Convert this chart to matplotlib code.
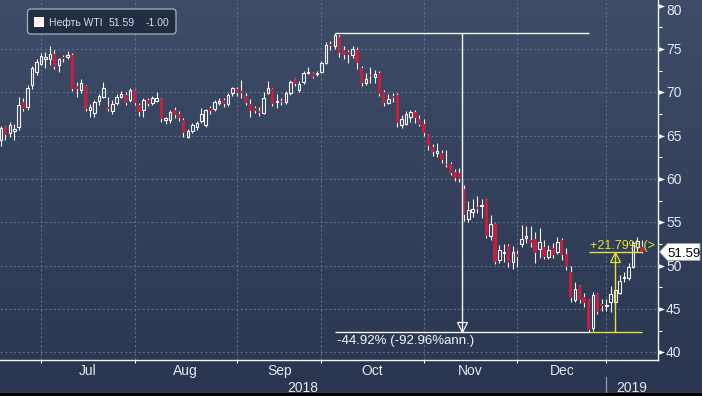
import numpy as np
import pandas as pd
import matplotlib
matplotlib.use("Agg")
import matplotlib.pyplot as plt
import matplotlib.transforms as mtransforms
from matplotlib.patches import FancyBboxPatch, Rectangle, Polygon
from matplotlib.path import Path

# ---------------- data ----------------
dates = pd.bdate_range("2018-06-18", "2019-01-11")
holidays = pd.to_datetime(["2018-07-04", "2018-09-03", "2018-11-22", "2018-12-25", "2019-01-01"])
dates = dates[~dates.isin(holidays)]

opens = [
    64.5, 65.95, 65.3, 65.5, 66.0, 68.9, 68.3, 70.8, 72.4, 73.3,
    73.8, 73.9, 74.4, 73.2, 74.1, 74.05, 74.3, 70.7, 70.3, 70.7,
    67.95, 67.65, 69.0, 69.5, 68.25, 67.8, 68.8, 69.5, 69.7, 69.1,
    70.25, 68.5, 67.95, 69.1, 68.75, 69.05, 69.2, 66.8, 66.8, 67.95,
    67.55, 66.8, 64.9, 65.55, 66.0, 66.7, 66.2, 68.15, 68.05, 68.75,
    69.1, 68.65, 69.9, 70.35, 70.1, 69.6, 68.7, 68.15, 67.9, 67.65,
    69.9, 70.34, 68.85, 69.0, 68.9, 69.9, 71.5, 70.3, 71.2, 72.2,
    72.2, 72.1, 72.3, 73.4, 75.6, 75.3, 76.35, 74.85, 74.6, 74.3,
    74.9, 72.8, 71.05, 72.05, 71.8, 72.25, 70.05, 68.8, 69.55, 69.7,
    66.25, 66.35, 67.1, 67.75, 66.9, 66.4, 65.05, 63.7, 63.05, 62.95,
    61.7, 61.75, 60.85, 60.75, 58.9, 55.4, 56.2, 56.8, 56.85, 57.55,
    53.45, 54.8, 50.65, 51.45, 52.3, 50.4, 51.3, 52.45, 53.25, 52.95,
    53.05, 51.9, 52.2, 51.05, 52.0, 51.6, 52.95, 51.3, 49.25, 46.05,
    47.6, 46.4, 46.05, 42.8, 46.7, 45.6, 45.3, 45.8, 45.8, 46.9,
    48.55, 48.6, 49.9, 52.2, 52.2]
highs = [
    66.1, 66.1, 66.6, 66.4, 69.5, 69.4, 70.9, 73.0, 73.8, 74.5,
    74.7, 75.4, 74.9, 74.0, 74.3, 74.8, 74.5, 71.2, 71.5, 70.9,
    68.7, 69.1, 69.8, 71.2, 69.5, 69.1, 69.8, 70.2, 70.0, 70.55,
    70.4, 68.8, 69.4, 69.4, 69.6, 70.0, 69.3, 67.2, 68.0, 68.3,
    67.8, 67.0, 65.8, 66.5, 66.7, 68.2, 68.1, 68.4, 69.1, 69.3,
    69.3, 69.9, 70.6, 70.6, 71.45, 69.9, 69.2, 68.4, 68.3, 70.0,
    71.3, 70.5, 69.8, 69.3, 70.2, 71.4, 71.7, 71.3, 72.5, 72.9,
    72.4, 72.5, 73.6, 75.8, 75.9, 76.9, 76.6, 75.3, 74.9, 75.4,
    75.2, 73.0, 72.2, 72.9, 72.6, 72.5, 70.3, 69.8, 69.9, 69.9,
    67.4, 67.8, 68.0, 68.0, 67.4, 66.9, 65.2, 64.0, 64.2, 63.3,
    63.35, 62.0, 61.2, 61.3, 59.3, 57.45, 57.75, 58.05, 57.75, 57.7,
    55.9, 54.9, 52.35, 52.45, 52.5, 52.3, 51.8, 54.7, 54.6, 54.6,
    53.9, 54.3, 52.95, 52.4, 52.6, 53.35, 53.2, 52.0, 50.0, 48.1,
    47.8, 46.8, 46.2, 47.0, 46.9, 46.2, 46.2, 47.6, 47.6, 48.9,
    49.3, 50.3, 52.8, 53.35, 52.95]
lows = [
    63.8, 64.5, 64.9, 64.5, 65.7, 67.8, 67.95, 70.4, 72.0, 73.15,
    72.8, 73.2, 72.7, 72.4, 73.5, 73.9, 70.1, 69.5, 69.9, 67.8,
    67.1, 67.2, 68.5, 69.3, 67.85, 67.5, 68.5, 69.3, 68.5, 68.9,
    68.5, 67.3, 67.1, 68.4, 68.5, 68.9, 66.6, 66.3, 66.5, 67.0,
    66.7, 64.8, 64.7, 65.3, 65.7, 66.5, 66.0, 67.5, 67.8, 68.5,
    68.3, 68.4, 69.6, 69.6, 69.3, 68.5, 67.15, 67.6, 67.3, 67.5,
    69.8, 68.4, 68.15, 68.5, 68.7, 69.7, 70.7, 70.0, 71.0, 72.1,
    71.6, 71.9, 72.2, 73.3, 74.9, 75.0, 74.1, 73.9, 73.35, 74.0,
    72.7, 70.7, 70.84, 71.04, 71.1, 69.6, 68.4, 68.7, 68.9, 65.96,
    65.9, 66.2, 66.6, 66.5, 66.1, 65.0, 63.3, 62.6, 62.57, 61.8,
    61.4, 60.5, 59.8, 59.6, 55.1, 55.0, 55.65, 56.04, 55.46, 53.2,
    52.96, 50.2, 50.27, 50.39, 49.9, 49.6, 49.88, 52.2, 52.58, 52.2,
    50.27, 50.9, 50.77, 50.8, 50.9, 51.4, 50.7, 49.5, 45.8, 45.85,
    45.7, 45.2, 42.36, 42.5, 44.4, 44.8, 44.8, 44.7, 45.4, 46.7,
    48.15, 48.4, 49.7, 51.6, 51.43]
closes = [
    65.85, 65.07, 66.22, 65.75, 68.58, 68.08, 70.53, 72.76, 73.45, 74.15,
    74.05, 74.4, 72.94, 73.8, 73.9, 74.3, 70.38, 70.4, 71.1, 68.06,
    68.35, 68.85, 69.55, 70.55, 68.05, 68.65, 69.5, 69.8, 68.8, 70.25,
    68.8, 67.75, 69.1, 68.65, 69.3, 69.3, 66.9, 67.0, 67.75, 67.4,
    67.0, 65.25, 65.55, 66.2, 66.5, 67.5, 67.95, 67.9, 68.9, 69.0,
    68.65, 69.7, 70.45, 69.95, 69.9, 68.8, 67.9, 67.9, 67.6, 69.4,
    70.45, 68.65, 69.0, 68.85, 69.95, 71.2, 70.95, 70.95, 72.2, 72.3,
    71.75, 72.2, 73.35, 75.45, 75.3, 76.6, 74.5, 74.35, 74.35, 75.05,
    73.35, 71.05, 71.5, 71.9, 72.1, 69.8, 68.75, 69.2, 69.3, 66.45,
    66.9, 67.5, 67.75, 67.0, 66.25, 65.3, 63.75, 63.15, 63.25, 62.2,
    61.6, 60.65, 60.1, 60.05, 55.85, 56.4, 56.55, 56.55, 56.95, 53.45,
    54.8, 50.4, 51.8, 51.55, 50.3, 51.55, 50.95, 53.1, 53.45, 52.6,
    51.5, 52.7, 51.05, 51.8, 51.2, 52.7, 51.2, 49.9, 46.25, 47.3,
    46.05, 45.65, 42.55, 46.6, 44.7, 45.4, 45.45, 46.7, 47.2, 48.2,
    48.7, 49.9, 52.6, 52.8, 51.59]

instrument = "Нефть WTI"
last_price = 51.59
last_change = -1.00
peak_date, trough_date = "2018-10-03", "2018-12-24"
peak_value, trough_value = 76.90, 42.36
drop_text = "-44.92% (-92.96%ann.)"
rise_text = "+21.79% (>"
y_ticks = [40, 45, 50, 55, 60, 65, 70, 75, 80]
month_labels = ["Jul", "Aug", "Sep", "Oct", "Nov", "Dec"]
year_labels = ["2018", "2019"]

# ---------------- figure ----------------
W, H = 702, 396
fig = plt.figure(figsize=(W / 100, H / 100), dpi=100)
px = mtransforms.Affine2D().scale(1 / 100) + fig.dpi_scale_trans  # pixel coords from bottom-left

FONT = "Liberation Sans"
TXT = "#e4e7ec"
WHITE = "#f4f4f4"
RED = "#c41f40"
YELLOW = "#e2e23a"
GRID = "#5a6e8e"

bg = fig.add_axes([0, 0, 1, 1], zorder=-10)
g = np.linspace(0, 1, 256)[:, None, None]
top = np.array([63, 76, 103]) / 255
bot = np.array([42, 54, 80]) / 255
bg.imshow(top * (1 - g) + bot * g, aspect="auto", extent=[0, 1, 0, 1], origin="upper")
bg.axis("off")

ax = fig.add_axes([0, 36 / H, 657.5 / W, 360 / H])
ax.set_facecolor("none")
n = len(opens)
x = np.arange(n)
ax.set_xlim(-0.22, 147.5)
ax.set_ylim(39.12, 80.65)

# month boundaries: last trading day of each month
pos = pd.Series(np.arange(n), index=dates)
ends = pos.groupby(dates.to_period("M")).max().values[:-1]  # Jun..Dec

# grid
for v in y_ticks[:-1]:
    ax.axhline(v, color=GRID, lw=0.8, ls=(0, (2, 2)), zorder=0)
for e in ends:
    ax.axvline(e, color=GRID, lw=0.8, ls=(0, (2, 2)), zorder=0)

# spines / ticks
for s in ["top", "left"]:
    ax.spines[s].set_visible(False)
for s in ["bottom", "right"]:
    ax.spines[s].set_color(WHITE)
    ax.spines[s].set_linewidth(1.0)
ax.set_xticks(ends)
ax.set_xticklabels([])
ax.tick_params(axis="x", direction="out", length=2.4, width=0.8, color=WHITE)
ax.yaxis.tick_right()
ax.set_yticks(y_ticks)
ax.set_yticklabels([])
ax.set_yticks(np.arange(42.5, 80, 5), minor=True)
ax.tick_params(axis="y", which="major", length=0)
ax.tick_params(axis="y", which="minor", direction="out", length=3.2, width=0.8, color=WHITE)

tri = Path([(0, -0.38), (1, 0), (0, 0.38), (0, -0.38)], [1, 2, 2, 79])
ax.plot(np.ones(len(y_ticks)), y_ticks, transform=ax.get_yaxis_transform(), ls="none",
        marker=tri, ms=9.4, color=WHITE, mew=0, clip_on=False)
for v in y_ticks:
    dy = -9.5 if v == 80 else -5
    t = mtransforms.offset_copy(ax.get_yaxis_transform(), fig=fig, x=8.5, y=dy, units="dots")
    ax.text(1.0, v, str(v), transform=t, ha="left", va="baseline", fontsize=10,
            color=TXT, family=FONT, clip_on=False)

# x labels
bx = mtransforms.blended_transform_factory(ax.transData, px)
for i, lab in enumerate(month_labels):
    ax.text((ends[i] + ends[i + 1]) / 2, 21, lab, transform=bx, ha="center", va="baseline",
            fontsize=10, color=TXT, family=FONT, clip_on=False)
xl, xr = ax.get_xlim()
ax.text((xl + ends[-1]) / 2, 4.5, year_labels[0], transform=bx, ha="center", va="baseline",
        fontsize=10, color=TXT, family=FONT, clip_on=False)
ax.text((ends[-1] + xr) / 2, 4.5, year_labels[1], transform=bx, ha="center", va="baseline",
        fontsize=10, color=TXT, family=FONT, clip_on=False)
ax.plot([ends[-1], ends[-1]], [3, 19], transform=bx, color="#8c9ab0", lw=0.9, clip_on=False)

# ---------------- candles ----------------
o = np.array(opens); h = np.array(highs); l = np.array(lows); c = np.array(closes)
up = c >= o
blo = np.minimum(o, c); bhi = np.maximum(o, c)
bh = np.maximum(bhi - blo, 0.07)
ax.vlines(x[up], bhi[up], h[up], color=WHITE, lw=0.8, zorder=3)
ax.vlines(x[up], l[up], blo[up], color=WHITE, lw=0.8, zorder=3)
ax.bar(x[up], bh[up], bottom=blo[up], width=0.58, facecolor="none", edgecolor=WHITE,
       linewidth=0.8, zorder=3)
ax.vlines(x[~up], l[~up], h[~up], color=WHITE, lw=0.8, zorder=3)
ax.bar(x[~up], bh[~up], bottom=blo[~up], width=0.72, color=RED, linewidth=0, zorder=4)

# ---------------- annotations ----------------
ip = int(pos[pd.Timestamp(peak_date)])
it = int(pos[pd.Timestamp(trough_date)])
il = n - 1
mid1 = (ip + it) / 2
mid2 = (it + il) / 2
ax.hlines([peak_value, trough_value], ip, it, color=WHITE, lw=1.0, zorder=6)
ax.vlines(mid1, trough_value, peak_value, color=WHITE, lw=1.0, zorder=6)
ax.plot([mid1], [trough_value], marker="v", ms=7.5, mfc="none", mec=WHITE, mew=0.9,
        transform=mtransforms.offset_copy(ax.transData, fig=fig, y=4.6, units="dots"), zorder=6)
ax.text(ip + 0.4, trough_value, drop_text, fontsize=9.5, color=WHITE, family=FONT,
        va="baseline", ha="left", zorder=6,
        transform=mtransforms.offset_copy(ax.transData, fig=fig, y=-12, units="dots"))

ax.hlines([trough_value, last_price], it, il, color=YELLOW, lw=1.0, zorder=7)
ax.vlines(mid2, trough_value, last_price, color=YELLOW, lw=1.0, zorder=7)
ax.plot([mid2], [last_price], marker="^", ms=7.5, mfc="none", mec=YELLOW, mew=0.9,
        transform=mtransforms.offset_copy(ax.transData, fig=fig, y=-4.6, units="dots"), zorder=7)
ax.text(it + 0.4, last_price, rise_text, fontsize=9, color=YELLOW, family=FONT,
        va="baseline", ha="left", zorder=7,
        transform=mtransforms.offset_copy(ax.transData, fig=fig, y=2.5, units="dots"))

# last price label on axis
anchor = mtransforms.ScaledTranslation(1.0, last_price, ax.get_yaxis_transform())
lab_tr = mtransforms.Affine2D() + anchor
ax.add_patch(Polygon([(2.0, 0), (10, 8.5), (42.5, 8.5), (42.5, -8.5), (10, -8.5)],
                     closed=True, transform=lab_tr, facecolor="white", edgecolor="#9aa3b0",
                     lw=0.6, clip_on=False, zorder=8))
ax.text(1.0, last_price, f"{last_price:.2f}", ha="center", va="baseline", fontsize=9.5,
        color="black", family=FONT, clip_on=False, zorder=9,
        transform=mtransforms.offset_copy(ax.get_yaxis_transform(), fig=fig, x=26.5,
                                          y=-5.4, units="dots"))

# ---------------- legend box ----------------
fig.add_artist(FancyBboxPatch((27.5, H - 34), 148.5, 25, boxstyle="round,pad=0,rounding_size=3.5",
                              transform=px, facecolor="#222d44", edgecolor="#a7afbd", lw=0.9))
fig.add_artist(Rectangle((33.5, H - 26.5), 10, 10, transform=px, facecolor="#fdf1ec",
                         edgecolor="none"))
fig.text(49, H - 25.7, instrument, transform=px, fontsize=7.5, color="#dadde3", family=FONT,
         va="baseline")
fig.text(108.5, H - 25.7, f"{last_price:.2f}", transform=px, fontsize=7.5, color="#dadde3",
         family=FONT, va="baseline")
fig.text(146, H - 25.7, f"{last_change:.2f}", transform=px, fontsize=7.5, color="#dadde3",
         family=FONT, va="baseline")

# bottom black strip
fig.add_artist(Rectangle((0, 0), W, 3, transform=px, facecolor="black", edgecolor="none"))

fig.savefig("out.png", dpi=100)
